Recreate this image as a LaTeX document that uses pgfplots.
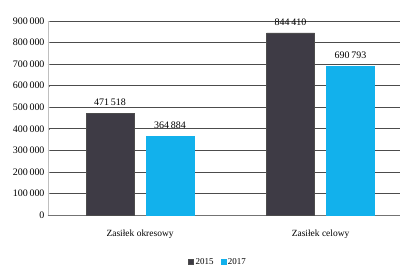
\documentclass[border=0pt]{standalone}
\usepackage{fontspec}
\setmainfont{Liberation Serif}
\usepackage{pgfplots}
\pgfplotsset{compat=1.18}
\definecolor{cdark}{HTML}{3E3B45}
\definecolor{ccyan}{HTML}{12B1EC}
\pgfkeys{/pgf/number format/.cd, fixed, precision=0, 1000 sep={\kern0.18em}, assume math mode=true}
\begin{document}
\begin{tikzpicture}
\path[use as bounding box] (-48bp,-53bp) rectangle (353bp,215bp);
\begin{axis}[
  at={(0,0)}, anchor=south west,
  scale only axis, width=352bp, height=194bp,
  xmin=-0.51, xmax=1.44, ymin=0, ymax=900000,
  ytick={0,100000,...,900000},
  xtick={0,1}, xticklabels={Zasiłek okresowy, Zasiłek celowy},
  ybar, bar width=48bp,
  axis x line*=bottom, axis y line*=left,
  x axis line style={draw=black!55, -},
  y axis line style={draw=black!25, -},
  ymajorgrids, grid style={draw=black!70, line width=0.7pt},
  ytick style={draw=black!50},
  major tick length=2pt,
  xtick style={draw=none},
  yticklabel style={font=\fontsize{10}{11}\selectfont},
  xticklabel style={font=\fontsize{9.5}{11}\selectfont, yshift=-9bp},
  scaled y ticks=false,
  yticklabel={\pgfmathprintnumber[fixed,precision=0,1000 sep={\kern0.18em},assume math mode=true]{\tick}},
  nodes near coords={\pgfmathprintnumber[fixed,precision=0,1000 sep={\kern0.18em},assume math mode=true]{\pgfplotspointmeta}},
  nodes near coords style={font=\fontsize{10}{11}\selectfont, yshift=4bp},
  clip=false,
  legend style={at={(0.483,-0.242)}, anchor=center, draw=none, legend columns=2, font=\fontsize{9}{10}\selectfont,
    /tikz/every even column/.append style={column sep=5bp}},
  legend image code/.code={\fill[#1] (0bp,-2.5bp) rectangle (5bp,2.5bp);},
]
\addplot[fill=cdark, draw=black!70, bar shift=-30bp] coordinates {(0,471518) (1,844410)};
\addplot[fill=ccyan, draw=ccyan, bar shift=30bp] coordinates {(0,364884) (1,690793)};
\legend{2015, 2017}
\end{axis}
\end{tikzpicture}
\end{document}
